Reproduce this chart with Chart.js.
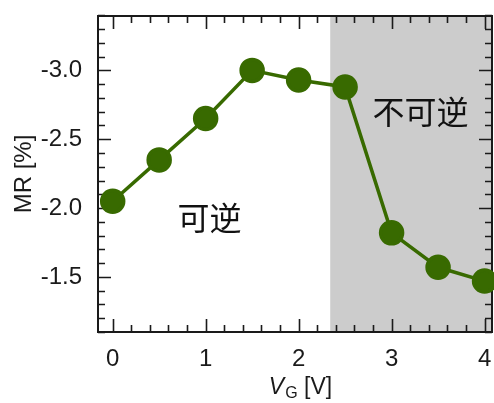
<!DOCTYPE html>
<html>
<head>
<meta charset="utf-8">
<script src="https://cdn.jsdelivr.net/npm/chart.js@4.4.0/dist/chart.umd.min.js"></script>
<style>
  html, body { margin: 0; padding: 0; background: #fff; }
  canvas { display: block; }
</style>
</head>
<body>
<canvas id="chart" width="494" height="403"></canvas>
<script>
// gate voltage (V) and magnetoresistance (%)
var gateVoltage = [0, 0.5, 1, 1.5, 2, 2.5, 3, 3.5, 4];
var mrValues = [-2.05, -2.35, -2.65, -3.0, -2.93, -2.88, -1.82, -1.57, -1.47];

var xTickValues = [0, 1, 2, 3, 4];
var yTickValues = [-3.0, -2.5, -2.0, -1.5];
var irreversibleFrom = 2.34;   // start of shaded region
var reversibleText = '可逆';
var irreversibleText = '不可逆';

var fontFamily = '"Liberation Sans", Arial, sans-serif';
var cjkFont = '32px "Noto Sans CJK SC", "Noto Sans CJK JP", sans-serif';
var ink = '#1a1a1a';

var points = gateVoltage.map(function(v, i) {
    return { x: v, y: mrValues[i] };
});

// frame with inward ticks, shading and labels
var framePlugin = {
    id: 'frame',
    beforeDatasetsDraw: function(chart) {
        var ctx = chart.ctx,
            a = chart.chartArea,
            xs = chart.scales.x,
            ys = chart.scales.y;

        ctx.save();
        var gx = xs.getPixelForValue(irreversibleFrom);
        ctx.fillStyle = '#cccccc';
        ctx.fillRect(gx, a.top, a.right - gx, a.bottom - a.top);

        ctx.strokeStyle = ink;
        ctx.lineWidth = 2;
        ctx.strokeRect(a.left, a.top, a.right - a.left, a.bottom - a.top);

        ctx.lineWidth = 1.6;
        ctx.beginPath();
        var i, v, px, len;
        for (i = 0; i <= 25; i++) {
            v = Math.round(i * 2) / 10;
            if (v > xs.max) break;
            px = Math.round(xs.getPixelForValue(v)) + 0.5;
            len = (i % 5 === 0) ? 13 : 7;
            ctx.moveTo(px, a.bottom); ctx.lineTo(px, a.bottom - len);
            ctx.moveTo(px, a.top); ctx.lineTo(px, a.top + len);
        }
        for (i = -34; i <= -11; i++) {
            v = i / 10;
            px = Math.round(ys.getPixelForValue(v)) + 0.5;
            len = (i % 5 === 0) ? 13 : 7;
            ctx.moveTo(a.left, px); ctx.lineTo(a.left + len, px);
            ctx.moveTo(a.right, px); ctx.lineTo(a.right - len, px);
        }
        ctx.stroke();

        ctx.fillStyle = '#111';
        ctx.font = cjkFont;
        ctx.textAlign = 'center';
        ctx.textBaseline = 'middle';
        ctx.fillText(reversibleText, xs.getPixelForValue(1.04), ys.getPixelForValue(-1.93));
        ctx.fillText(irreversibleText, xs.getPixelForValue(3.31), ys.getPixelForValue(-2.70));

        // axis titles
        ctx.fillStyle = ink;
        ctx.font = '24px ' + fontFamily;
        ctx.save();
        ctx.translate(24, (a.top + a.bottom) / 2);
        ctx.rotate(-Math.PI / 2);
        ctx.fillText('MR [%]', 0, 0);
        ctx.restore();

        var f1 = 'italic 23px ' + fontFamily,
            f2 = '16px ' + fontFamily,
            f3 = '23px ' + fontFamily;
        ctx.font = f1; var w1 = ctx.measureText('V').width;
        ctx.font = f2; var w2 = ctx.measureText('G').width;
        ctx.font = f3; var w3 = ctx.measureText(' [V]').width;
        var x0 = 300 - (w1 + w2 + w3) / 2, base = 394;
        ctx.textAlign = 'left';
        ctx.textBaseline = 'alphabetic';
        ctx.font = f1; ctx.fillText('V', x0, base);
        ctx.font = f2; ctx.fillText('G', x0 + w1 + 1, base + 4);
        ctx.font = f3; ctx.fillText(' [V]', x0 + w1 + w2 + 1, base);
        ctx.restore();
    }
};

new Chart(document.getElementById('chart').getContext('2d'), {
    type: 'scatter',
    data: {
        datasets: [{
            data: points,
            showLine: true,
            borderColor: '#386a00',
            backgroundColor: '#386a00',
            borderWidth: 3.5,
            pointRadius: 11,
            pointHoverRadius: 11,
            clip: false
        }]
    },
    options: {
        responsive: false,
        animation: false,
        layout: { autoPadding: false, padding: { left: 0, top: 16, right: 2, bottom: 0 } },
        plugins: { legend: { display: false }, tooltip: { enabled: false } },
        scales: {
            x: {
                type: 'linear',
                min: -0.158,
                max: 4.08,
                grid: { display: false },
                border: { display: false },
                afterBuildTicks: function(s) {
                    s.ticks = xTickValues.map(function(v) { return { value: v }; });
                },
                afterFit: function(s) {
                    s.height = 71;
                    s.paddingLeft = 0;
                    s.paddingRight = 0;
                },
                ticks: {
                    color: ink,
                    padding: 5,
                    maxRotation: 0,
                    font: { family: fontFamily, size: 24 },
                    callback: function(v) { return String(v); }
                }
            },
            y: {
                type: 'linear',
                reverse: true,
                min: -3.395,
                max: -1.1,
                grid: { display: false },
                border: { display: false },
                afterBuildTicks: function(s) {
                    s.ticks = yTickValues.map(function(v) { return { value: v }; });
                },
                afterFit: function(s) {
                    s.width = 98;
                    s.paddingTop = 0;
                    s.paddingBottom = 0;
                },
                ticks: {
                    color: ink,
                    padding: 8,
                    font: { family: fontFamily, size: 24 },
                    callback: function(v) { return v.toFixed(1); }
                }
            }
        }
    },
    plugins: [framePlugin]
});
</script>
</body>
</html>
